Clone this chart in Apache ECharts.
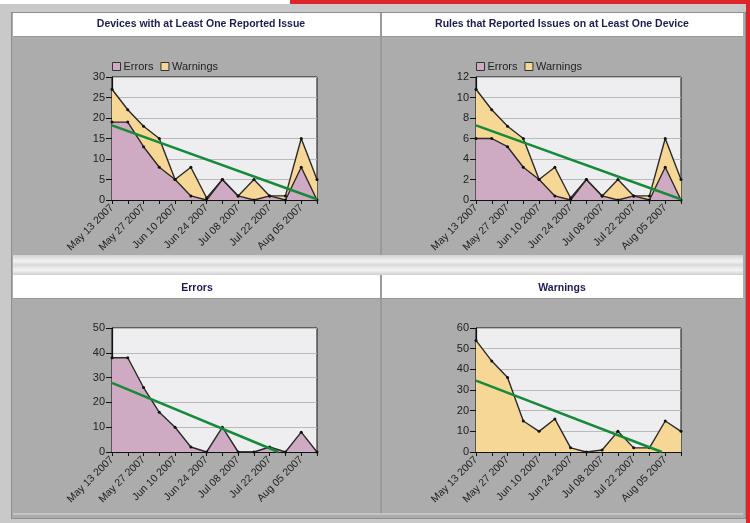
<!DOCTYPE html>
<html>
<head>
<meta charset="utf-8">
<script src="https://cdn.jsdelivr.net/npm/echarts@6/dist/echarts.min.js"></script>
<style>
  html, body { margin:0; padding:0; width:750px; height:523px; overflow:hidden; background:#c9c9c9; }
  .abs { position:absolute; }
  #chart { position:absolute; left:0; top:0; width:750px; height:523px; }
</style>
</head>
<body>
<div class="abs" style="left:0;top:0;width:290px;height:4px;background:#ffffff"></div>
<div class="abs" style="left:290px;top:0;width:460px;height:4px;background:#e0242c"></div>
<div class="abs" style="left:746px;top:0;width:4px;height:523px;background:#e0242c"></div>
<div class="abs" style="left:11px;top:12px;width:733px;height:505px;border:1px solid #8e8e8e;background:#acacac"></div>
<div class="abs" style="left:13px;top:13px;width:367px;height:23px;background:#fff;border-bottom:1px solid #999"></div>
<div class="abs" style="left:382px;top:13px;width:361px;height:23px;background:#fff;border-bottom:1px solid #999"></div>
<div class="abs" style="left:13px;top:255px;width:730px;height:20px;background:linear-gradient(#d2d2d2,#f2f2f2 30%,#dadada 50%,#f4f4f4 75%,#cfcfcf)"></div>
<div class="abs" style="left:13px;top:275px;width:367px;height:23px;background:#fff;border-bottom:1px solid #999"></div>
<div class="abs" style="left:382px;top:275px;width:361px;height:23px;background:#fff;border-bottom:1px solid #999"></div>
<div class="abs" style="left:380px;top:13px;width:2px;height:242px;background:#9a9a9a"></div>
<div class="abs" style="left:380px;top:275px;width:2px;height:239px;background:#9a9a9a"></div>
<div class="abs" style="left:13px;top:513px;width:730px;height:2px;background:#c4c4c4"></div>
<div id="chart"></div>
<script>
// ---- data ----
var dates = ['May 13 2007','May 20 2007','May 27 2007','Jun 03 2007','Jun 10 2007','Jun 17 2007','Jun 24 2007',
             'Jul 01 2007','Jul 08 2007','Jul 15 2007','Jul 22 2007','Jul 29 2007','Aug 05 2007','Aug 12 2007'];
var devicesErrors   = [19, 19, 13, 8, 5, 1, 0, 5, 1, 0, 1, 0, 8, 0];
var devicesWarnings = [27, 22, 18, 15, 5, 8, 0.5, 5, 1, 5, 1, 1, 15, 5];
var rulesErrors     = [6, 6, 5.2, 3.2, 2, 0.4, 0, 2, 0.4, 0, 0.4, 0, 3.2, 0];
var rulesWarnings   = [10.8, 8.8, 7.2, 6, 2, 3.2, 0.2, 2, 0.4, 2, 0.4, 0.4, 6, 2];
var errorCounts     = [38, 38, 26, 16, 10, 2, 0, 10, 0, 0, 2, 0, 8, 0];
var warningCounts   = [54, 44, 36, 15, 10, 16, 2, 0, 1, 10, 2, 2, 15, 10];
var titles = ['Devices with at Least One Reported Issue', 'Rules that Reported Issues on at Least One Device', 'Errors', 'Warnings'];
var yMax = [30, 12, 50, 60];
var yStep = [5, 2, 10, 10];

var PINK = '#cfaac3', YELLOW = '#f6d796', GREEN = '#178a3a';
var FONT = 'Liberation Sans, Arial, sans-serif';

function pairs(vals) { return vals.map(function (v, i) { return [i, v]; }); }
function trend(vals) {
  var n = vals.length, sx = 0, sy = 0, sxy = 0, sxx = 0;
  for (var i = 0; i < n; i++) { sx += i; sy += vals[i]; sxy += i * vals[i]; sxx += i * i; }
  var b = (n * sxy - sx * sy) / (n * sxx - sx * sx);
  var a = (sy - b * sx) / n;
  var xEnd = n - 1, yEnd = a + b * xEnd;
  if (yEnd < 0) { xEnd = -a / b; yEnd = 0; }
  return [[0, a], [xEnd, yEnd]];
}

var grids = [
  { left: 112, top: 77, width: 205, height: 123 },
  { left: 476, top: 77, width: 205, height: 123 },
  { left: 112, top: 328, width: 205, height: 124 },
  { left: 476, top: 328, width: 205, height: 124 }
];
var titlePos = [[201, 19], [562, 19], [197, 283], [562, 283]];

function legendCfg(left) {
  return { left: left, top: 61, itemWidth: 8, itemHeight: 8, itemGap: 7, padding: 0,
    textStyle: { fontFamily: FONT, fontSize: 11, color: '#222', padding: [0, 0, 0, -2] },
    data: [{ name: 'Errors', icon: 'rect', itemStyle: { color: PINK, borderColor: '#333', borderWidth: 1 } },
           { name: 'Warnings', icon: 'rect', itemStyle: { color: YELLOW, borderColor: '#333', borderWidth: 1 } }] };
}

var option = {
  animation: false,
  backgroundColor: 'transparent',
  title: titles.map(function (t, k) {
    return { text: t, left: titlePos[k][0], top: titlePos[k][1], textAlign: 'center', padding: 0,
      textStyle: { fontFamily: FONT, fontWeight: 'bold', fontSize: 10.5, color: '#1c1c52' } };
  }),
  legend: [legendCfg(112), legendCfg(476)],
  grid: grids.map(function (g) {
    return Object.assign({ show: true, backgroundColor: '#eeeef0', borderColor: '#111', borderWidth: 1, containLabel: false }, g);
  }),
  xAxis: grids.map(function (g, k) {
    return { gridIndex: k, type: 'value', min: 0, max: 13, interval: 1,
      axisLine: { lineStyle: { color: '#111', width: 1.2 } },
      axisTick: { show: true, length: 4, lineStyle: { color: '#111' } },
      splitLine: { show: false },
      axisLabel: { rotate: 45, margin: 6, fontSize: 10.5, color: '#222', fontFamily: FONT,
        formatter: function (v) { return (v % 2 === 0 && dates[v]) ? dates[v] : ''; } } };
  }),
  yAxis: grids.map(function (g, k) {
    return { gridIndex: k, type: 'value', min: 0, max: yMax[k], interval: yStep[k],
      axisLine: { show: true, lineStyle: { color: '#111', width: 1.2 } },
      axisTick: { show: true, length: 6, lineStyle: { color: '#111' } },
      splitLine: { lineStyle: { color: '#b9b9b9', width: 1 } },
      axisLabel: { margin: 7, fontSize: 11, color: '#222', fontFamily: FONT } };
  }),
  series: []
};

function area(name, vals, k, color) {
  return { name: name, type: 'line', xAxisIndex: k, yAxisIndex: k, data: pairs(vals),
    symbol: 'circle', symbolSize: 3, showSymbol: true,
    itemStyle: { color: '#111' },
    lineStyle: { color: '#2a2a2a', width: 1.4 },
    areaStyle: { color: color, opacity: 1 } };
}
function trendLine(vals, k) {
  return { name: 'Trend', type: 'line', xAxisIndex: k, yAxisIndex: k, data: trend(vals),
    symbol: 'none', lineStyle: { color: GREEN, width: 2.5 }, z: 5 };
}

option.series.push(area('Warnings', devicesWarnings, 0, YELLOW));
option.series.push(area('Errors', devicesErrors, 0, PINK));
option.series.push(trendLine(devicesWarnings, 0));
option.series.push(area('Warnings', rulesWarnings, 1, YELLOW));
option.series.push(area('Errors', rulesErrors, 1, PINK));
option.series.push(trendLine(rulesWarnings, 1));
option.series.push(area('Errors', errorCounts, 2, PINK));
option.series.push(trendLine(errorCounts, 2));
option.series.push(area('Warnings', warningCounts, 3, YELLOW));
option.series.push(trendLine(warningCounts, 3));

var chart = echarts.init(document.getElementById('chart'), null, { renderer: 'canvas' });
chart.setOption(option);
</script>
</body>
</html>
